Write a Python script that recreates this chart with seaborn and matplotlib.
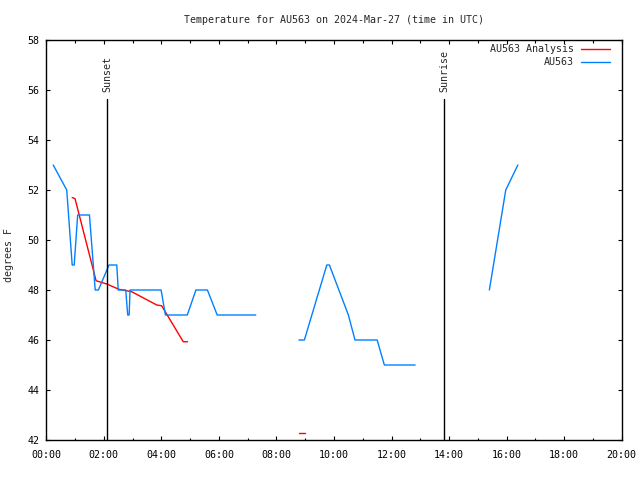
import matplotlib
matplotlib.use("Agg")
import matplotlib.pyplot as plt
import seaborn as sns
import pandas as pd
from matplotlib.ticker import MultipleLocator, FuncFormatter
from matplotlib.lines import Line2D

# ---- data (hours UTC, degrees F) ----
obs_hours = [0.24, 0.71, 0.90, 0.97, 1.09, 1.50, 1.70, 1.81, 2.18, 2.45, 2.50, 2.76, 2.83, 2.88, 2.91,
             3.99, 4.14, 4.90, 5.20, 5.60, 5.94, 7.28,
             8.78, 8.97, 9.75, 9.84, 10.50, 10.73, 11.50, 11.75, 12.82,
             15.40, 15.97, 16.39]
obs_temps = [53, 52, 49, 49, 51, 51, 48, 48, 49, 49, 48, 48, 47, 47, 48,
             48, 47, 47, 48, 48, 47, 47,
             46, 46, 49, 49, 47, 46, 46, 45, 45,
             48, 52, 53]
obs_segment = [0] * 22 + [1] * 9 + [2] * 3

ana_hours = [0.90, 1.00, 1.73, 2.10, 2.52, 2.97, 3.84, 4.01, 4.76, 4.91,
             8.78, 8.99]
ana_temps = [51.7, 51.65, 48.37, 48.24, 48.03, 47.93, 47.4, 47.37, 45.93, 45.93,
             42.3, 42.3]
ana_segment = [0] * 10 + [1] * 2

event_names = ["Sunset", "Sunrise"]
event_hours = [2.11, 13.82]

title = "Temperature for AU563 on 2024-Mar-27 (time in UTC)"
ylabel = "degrees F"
legend_labels = ["AU563 Analysis", "AU563"]

red = "#ff0000"
blue = "#0080ff"
fs = 7.2

sns.set_style("ticks")
plt.rcParams["font.family"] = ["DejaVu Sans Mono", "DejaVu Sans"]
plt.rcParams["font.size"] = fs

fig = plt.figure(figsize=(6.4, 4.8), dpi=100)
ax = fig.add_axes([46.3 / 640, 1 - 440 / 480, 575.4 / 640, 400 / 480])

obs = pd.DataFrame({"h": obs_hours, "t": obs_temps, "seg": obs_segment})
ana = pd.DataFrame({"h": ana_hours, "t": ana_temps, "seg": ana_segment})

sns.lineplot(data=ana, x="h", y="t", units="seg", estimator=None, sort=False,
             color=red, linewidth=1.0, ax=ax, legend=False)
sns.lineplot(data=obs, x="h", y="t", units="seg", estimator=None, sort=False,
             color=blue, linewidth=1.0, ax=ax, legend=False)

for name, h in zip(event_names, event_hours):
    ax.plot([h, h], [42, 55.63], color="black", linewidth=1.0)
    ax.text(h, 55.92, name, rotation=90, ha="center", va="bottom", fontsize=fs)

ax.set_xlim(0, 20)
ax.set_ylim(42, 58)
ax.xaxis.set_major_locator(MultipleLocator(2))
ax.xaxis.set_minor_locator(MultipleLocator(1))
ax.yaxis.set_major_locator(MultipleLocator(2))
ax.xaxis.set_major_formatter(FuncFormatter(lambda v, p: f"{int(round(v)):02d}:00"))
ax.yaxis.set_major_formatter(FuncFormatter(lambda v, p: f"{int(round(v))}"))
ax.tick_params(which="both", direction="in", top=True, right=True, color="black",
               labelsize=fs, labelcolor="black")
ax.tick_params(which="major", length=3, width=0.8)
ax.tick_params(which="minor", length=1.8, width=0.8)
ax.tick_params(axis="x", which="major", pad=7)
ax.tick_params(axis="y", which="major", pad=5)
for s in ax.spines.values():
    s.set_visible(True)
    s.set_linewidth(1.0)
    s.set_color("black")

ax.set_xlabel("")
ax.set_ylabel(ylabel, fontsize=fs)
ax.yaxis.set_label_coords(-0.056, 0.4625)

fig.text(0.522, 1 - 20 / 480, title, ha="center", va="center", fontsize=fs)

handles = [Line2D([], [], color=red, linewidth=1.0), Line2D([], [], color=blue, linewidth=1.0)]
ax.legend(handles, legend_labels, loc="upper right", markerfirst=False, frameon=False,
          fontsize=fs, handlelength=2.9, handletextpad=0.7, labelspacing=0.3,
          borderaxespad=0.3, bbox_to_anchor=(0.992, 1.007))

fig.savefig("out.png", dpi=100)
